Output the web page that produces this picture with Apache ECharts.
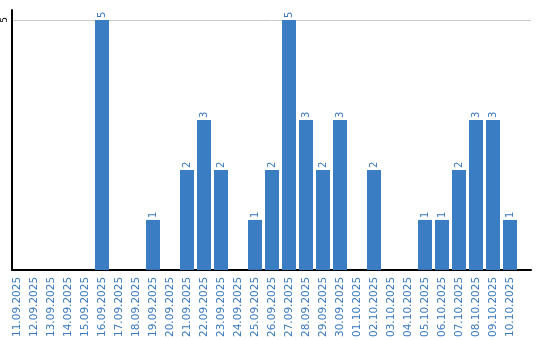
<!DOCTYPE html>
<html>
<head>
<meta charset="utf-8">
<script src="https://cdn.jsdelivr.net/npm/echarts@6/dist/echarts.min.js"></script>
<style>html,body{margin:0;padding:0;background:#fff}#c{width:540px;height:340px}</style>
</head>
<body>
<div id="c"></div>
<script>
const categories = ["11.09.2025","12.09.2025","13.09.2025","14.09.2025","15.09.2025","16.09.2025","17.09.2025","18.09.2025","19.09.2025","20.09.2025","21.09.2025","22.09.2025","23.09.2025","24.09.2025","25.09.2025","26.09.2025","27.09.2025","28.09.2025","29.09.2025","30.09.2025","01.10.2025","02.10.2025","03.10.2025","04.10.2025","05.10.2025","06.10.2025","07.10.2025","08.10.2025","09.10.2025","10.10.2025"];
const values = [0,0,0,0,0,5,0,0,1,0,2,3,2,0,1,2,5,3,2,3,0,2,0,0,1,1,2,3,3,1];
const yTickLabels = ["5"];

const blue = '#3b7dc2';
const txt = '#3a7abf';
const font = 'DejaVu Sans';
const chart = echarts.init(document.getElementById('c'), null, {renderer: 'canvas'});
chart.setOption({
  animation: false,
  grid: [
    {left: 8.5, width: 510, top: 10, bottom: 70},
    {left: 10, right: 9, top: 10, bottom: 70}
  ],
  xAxis: [
    {type: 'category', gridIndex: 0, data: categories,
     axisLine: {show: false}, axisTick: {show: false},
     axisLabel: {rotate: 90, interval: 0, color: txt, fontFamily: font, fontSize: 10.5, margin: 7}},
    {type: 'value', gridIndex: 1, min: 0, max: 1, show: true,
     axisLine: {show: true, onZero: false, lineStyle: {color: '#000', width: 2}},
     axisTick: {show: false}, axisLabel: {show: false}, splitLine: {show: false}}
  ],
  yAxis: [
    {type: 'value', gridIndex: 0, min: 0, max: 5.2, show: false},
    {type: 'value', gridIndex: 1, min: 0, max: 5.2, interval: 5,
     axisLine: {show: true, lineStyle: {color: '#000', width: 2}},
     axisTick: {show: false},
     axisLabel: {rotate: 90, margin: 3, color: '#000', fontFamily: font, fontSize: 9,
       formatter: v => yTickLabels.indexOf(String(v)) >= 0 ? String(v) : ''},
     splitLine: {show: true, lineStyle: {color: ['rgba(0,0,0,0)', '#c8c8c8', 'rgba(0,0,0,0)'], width: 1}}}
  ],
  series: [{
    type: 'bar', xAxisIndex: 0, yAxisIndex: 0, data: values,
    barWidth: 14,
    itemStyle: {color: blue},
    label: {show: true, position: 'top', rotate: 90, distance: 2, align: 'left', verticalAlign: 'middle',
      color: txt, fontFamily: font, fontSize: 10,
      formatter: p => p.value ? String(p.value) : ''}
  }]
});
</script>
</body>
</html>
